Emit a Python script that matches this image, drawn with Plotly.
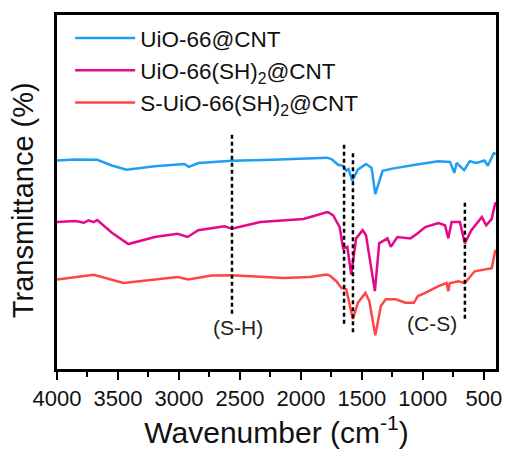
import plotly.graph_objects as go

# ---- data (wavenumber in cm-1, transmittance in arbitrary offset units) ----
wn_uio = [4000, 3850, 3670, 3550, 3430, 3300, 3198, 2955, 2920, 2840, 2567, 2227, 1790, 1749,
          1695, 1654, 1628, 1610, 1579, 1533, 1466, 1420, 1390, 1330, 1250, 1061, 874, 777,
          742, 723, 661, 615, 561, 494, 467, 418, 400]
t_uio = [58.9, 59.2, 59.1, 57.5, 56.3, 56.8, 57.3, 57.9, 57.1, 58.2, 58.8, 59.1, 59.7, 59.3,
         57.7, 57.4, 56.0, 56.5, 53.2, 56.3, 57.9, 56.8, 49.4, 56.0, 56.6, 57.7, 58.7, 58.5,
         55.4, 58.2, 56.2, 58.7, 58.2, 58.9, 57.4, 61.0, 60.7]

wn_sh = [4000, 3850, 3780, 3741, 3700, 3670, 3550, 3415, 3198, 3012, 2929, 2842, 2626, 2567, 2332,
         1978, 1790, 1776, 1735, 1682, 1654, 1619, 1587, 1547, 1493, 1466, 1393, 1358, 1290,
         1263, 1209, 1101, 1047, 980, 872, 818, 791, 764, 696, 656, 602, 561, 516, 480, 435,
         408, 400]
t_sh = [41.5, 41.8, 41.3, 42.0, 41.5, 42.1, 38.5, 35.3, 37.3, 38.2, 37.3, 39.2, 40.3, 39.6, 41.5,
        42.4, 44.3, 44.3, 43.4, 40.1, 34.1, 34.5, 26.7, 36.9, 39.2, 37.8, 22.0, 35.5, 36.9,
        34.5, 37.3, 36.9, 38.2, 40.1, 41.2, 40.6, 36.9, 41.5, 41.5, 35.5, 39.2, 41.0, 42.9,
        40.6, 42.4, 46.6, 47.1]

wn_ssh = [4000, 3698, 3455, 3198, 3010, 2923, 2734, 2567, 2140, 1925, 1790, 1763, 1709, 1668,
          1628, 1574, 1533, 1471, 1439, 1390, 1344, 1304, 1223, 1142, 1074, 1040, 980, 872,
          805, 791, 780, 710, 656, 575, 494, 435, 408, 400]
t_ssh = [25.3, 26.6, 24.3, 25.4, 26.0, 25.3, 26.4, 26.5, 25.7, 26.0, 26.7, 26.4, 24.8, 22.9,
         22.5, 14.1, 18.7, 21.5, 19.2, 9.5, 17.8, 19.7, 19.7, 18.7, 18.7, 20.6, 21.5, 23.4,
         24.3, 22.0, 24.2, 24.8, 24.3, 27.6, 28.1, 28.5, 33.1, 33.7]

names = ["UiO-66@CNT", "UiO-66(SH)<sub>2</sub>@CNT", "S-UiO-66(SH)<sub>2</sub>@CNT"]
colors = ["#1E9FF2", "#E6078A", "#FF4545"]

# marker lines: wavenumber, lower value, upper value
peak_wn = [2565, 1646, 1573, 655]
peak_lo = [15.6, 12.8, 10.4, 14.2]
peak_hi = [66.6, 63.8, 61.6, 47.1]

label_text = ["(S-H)", "(C-S)"]
label_wn = [2518, 923]
label_t = [11.8, 12.8]

fig = go.Figure()
for wn, t, n, c in zip([wn_uio, wn_sh, wn_ssh], [t_uio, t_sh, t_ssh], names, colors):
    fig.add_trace(go.Scatter(x=wn, y=t, mode="lines", name=n,
                             line=dict(color=c, width=2.5)))

for w, lo, hi in zip(peak_wn, peak_lo, peak_hi):
    fig.add_shape(type="line", x0=w, x1=w, y0=lo, y1=hi, xref="x", yref="y",
                  line=dict(color="black", width=2.5, dash="4px,3px"))

for txt, w, t in zip(label_text, label_wn, label_t):
    fig.add_annotation(x=w, y=t, text=txt, showarrow=False,
                       font=dict(size=21, color="#222"))

# y-axis title as annotation (placed slightly below centre like the reference)
fig.add_annotation(x=-0.076, y=0.476, xref="paper", yref="paper",
                   text="Transmittance (%)", textangle=-90, showarrow=False,
                   xanchor="center", yanchor="middle",
                   font=dict(size=29, color="#111"))

fig.update_layout(
    width=510, height=452,
    margin=dict(l=57, r=8, t=15, b=78),
    paper_bgcolor="white", plot_bgcolor="white",
    font=dict(family="Liberation Sans, Arial", color="#111"),
    legend=dict(x=0.03, y=0.995, xanchor="left", yanchor="top",
                font=dict(size=22.5), bgcolor="rgba(0,0,0,0)",
                itemwidth=60, tracegroupgap=0),
    showlegend=True,
)
fig.update_xaxes(
    range=[4000, 400], tick0=0, dtick=500,
    ticks="outside", ticklen=8, tickwidth=2, tickcolor="black",
    minor=dict(ticks="outside", ticklen=5, tickwidth=2, dtick=250, tick0=0, tickcolor="black"),
    showline=True, linewidth=2.5, linecolor="black", mirror=True,
    showgrid=False, zeroline=False,
    tickfont=dict(size=22),
    title=dict(text="Wavenumber (cm<sup>-1</sup>)", font=dict(size=30), standoff=12),
)
fig.update_yaxes(
    range=[0, 100], showticklabels=False, ticks="",
    showline=True, linewidth=2.5, linecolor="black", mirror=True,
    showgrid=False, zeroline=False,
)

fig.write_html("out.html")
